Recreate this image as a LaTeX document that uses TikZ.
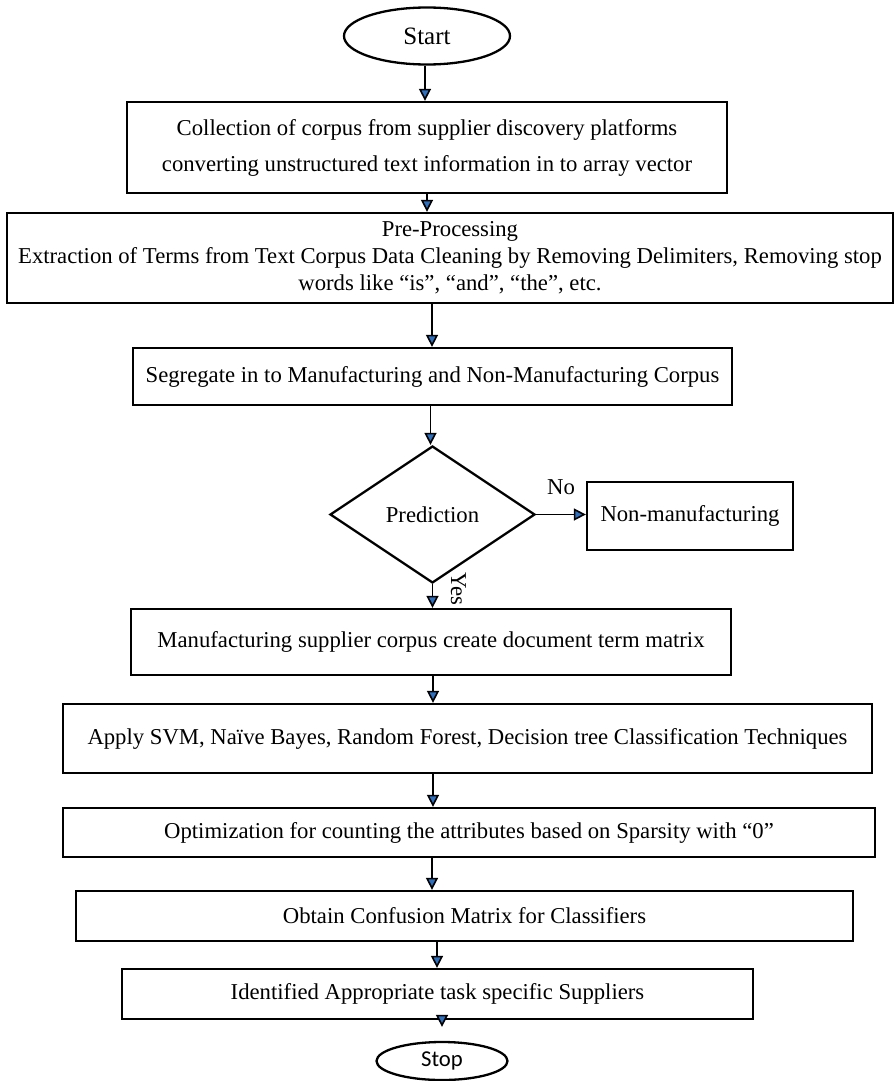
\documentclass[tikz,border=0pt]{standalone}
\usepackage{fontspec}
\setmainfont{Liberation Serif}
\newfontfamily\stopfont{Carlito}
\usepackage{tikz}
\usetikzlibrary{shapes,shapes.geometric,arrows.meta,positioning,calc}
\definecolor{tipblue}{RGB}{46,112,190}

\begin{document}
\begin{tikzpicture}[
    x=0.5pt, y=-0.5pt,
    font=\fontsize{11.35}{13.5}\selectfont,
    box/.style={rectangle, draw, line width=1.15pt, align=center, inner sep=2pt},
    term/.style={ellipse, draw, line width=1.15pt, inner sep=0pt},
    decide/.style={diamond, draw, line width=1.15pt, inner sep=0pt},
    arrow/.style={line width=0.8pt, -{Triangle[width=6pt, length=6pt, fill=tipblue]}}
]
    \useasboundingbox (0,0) rectangle (895,1081);

    % --- terminals ---
    \node[term, minimum width=83pt, minimum height=28.5pt, font=\fontsize{12.5}{14}\selectfont] (start) at (427,36) {Start};
    \node[term, minimum width=65.5pt, minimum height=19pt, font=\stopfont\fontsize{11.35}{13.5}\selectfont] (stop) at (442,1061) {Stop};

    % --- process boxes ---
    \node[box, minimum width=300pt, minimum height=45.5pt, font=\fontsize{11.35}{18}\selectfont] (collect) at (427,147.5)
        {Collection of corpus from supplier discovery platforms\\converting unstructured text information in to array vector};
    \node[box, minimum width=443pt, minimum height=45pt] (prep) at (450,258)
        {Pre-Processing\\Extraction of Terms from Text Corpus Data Cleaning by Removing Delimiters, Removing stop\\words like ``is'', ``and'', ``the'', etc.};
    \node[box, minimum width=299.5pt, minimum height=28.5pt] (segregate) at (432.5,376.5)
        {Segregate in to Manufacturing and Non-Manufacturing Corpus};
    \node[decide, minimum width=102.5pt, minimum height=68.5pt] (predict) at (432.5,514.5) {Prediction};
    \node[box, minimum width=103pt, minimum height=34pt] (nonmanu) at (690,516) {Non-manufacturing};
    \node[box, minimum width=300pt, minimum height=33pt] (dtm) at (431,642)
        {Manufacturing supplier corpus create document term matrix};
    \node[box, minimum width=404.5pt, minimum height=34.5pt] (classify) at (467.5,738.5)
        {Apply SVM, Na\"ive Bayes, Random Forest, Decision tree Classification Techniques};
    \node[box, minimum width=406pt, minimum height=24.5pt] (optim) at (469,832.5)
        {Optimization for counting the attributes based on Sparsity with ``0''};
    \node[box, minimum width=388.5pt, minimum height=25pt] (confusion) at (464.5,916)
        {Obtain Confusion Matrix for Classifiers};
    \node[box, minimum width=315.5pt, minimum height=25pt] (suppliers) at (437.5,994)
        {Identified Appropriate task specific Suppliers};

    % --- connections ---
    \draw[arrow] ([xshift=-1pt]start.south) -- ([xshift=-1pt]start.south |- collect.north);
    \draw[arrow] (collect.south) -- (collect.south |- prep.north);
    \draw[arrow] ([xshift=-9pt]prep.south) -- ([xshift=-9pt]prep.south |- segregate.north);
    \draw[arrow] ([xshift=-1pt]segregate.south) -- ([xshift=-1pt]segregate.south |- predict.north);
    \draw[arrow] (predict.east) -- node[yshift=13.5pt] {No} (predict.east -| nonmanu.west);
    \draw[arrow] (predict.south) -- node[pos=0.2, xshift=13pt, rotate=-90] {Yes} (predict.south |- dtm.north);
    \draw[arrow] ([xshift=1pt]dtm.south) -- ([xshift=1pt]dtm.south |- classify.north);
    \draw[arrow] ([xshift=-17.25pt]classify.south) -- ([xshift=-17.25pt]classify.south |- optim.north);
    \draw[arrow] ([xshift=-18.5pt]optim.south) -- ([xshift=-18.5pt]optim.south |- confusion.north);
    \draw[arrow] ([xshift=-13.75pt]confusion.south) -- ([xshift=-13.75pt]confusion.south |- suppliers.north);
    \draw[arrow, shorten >=7pt] ([xshift=2.25pt]suppliers.south) -- ([xshift=2.25pt]suppliers.south |- stop.north);

\end{tikzpicture}
\end{document}
